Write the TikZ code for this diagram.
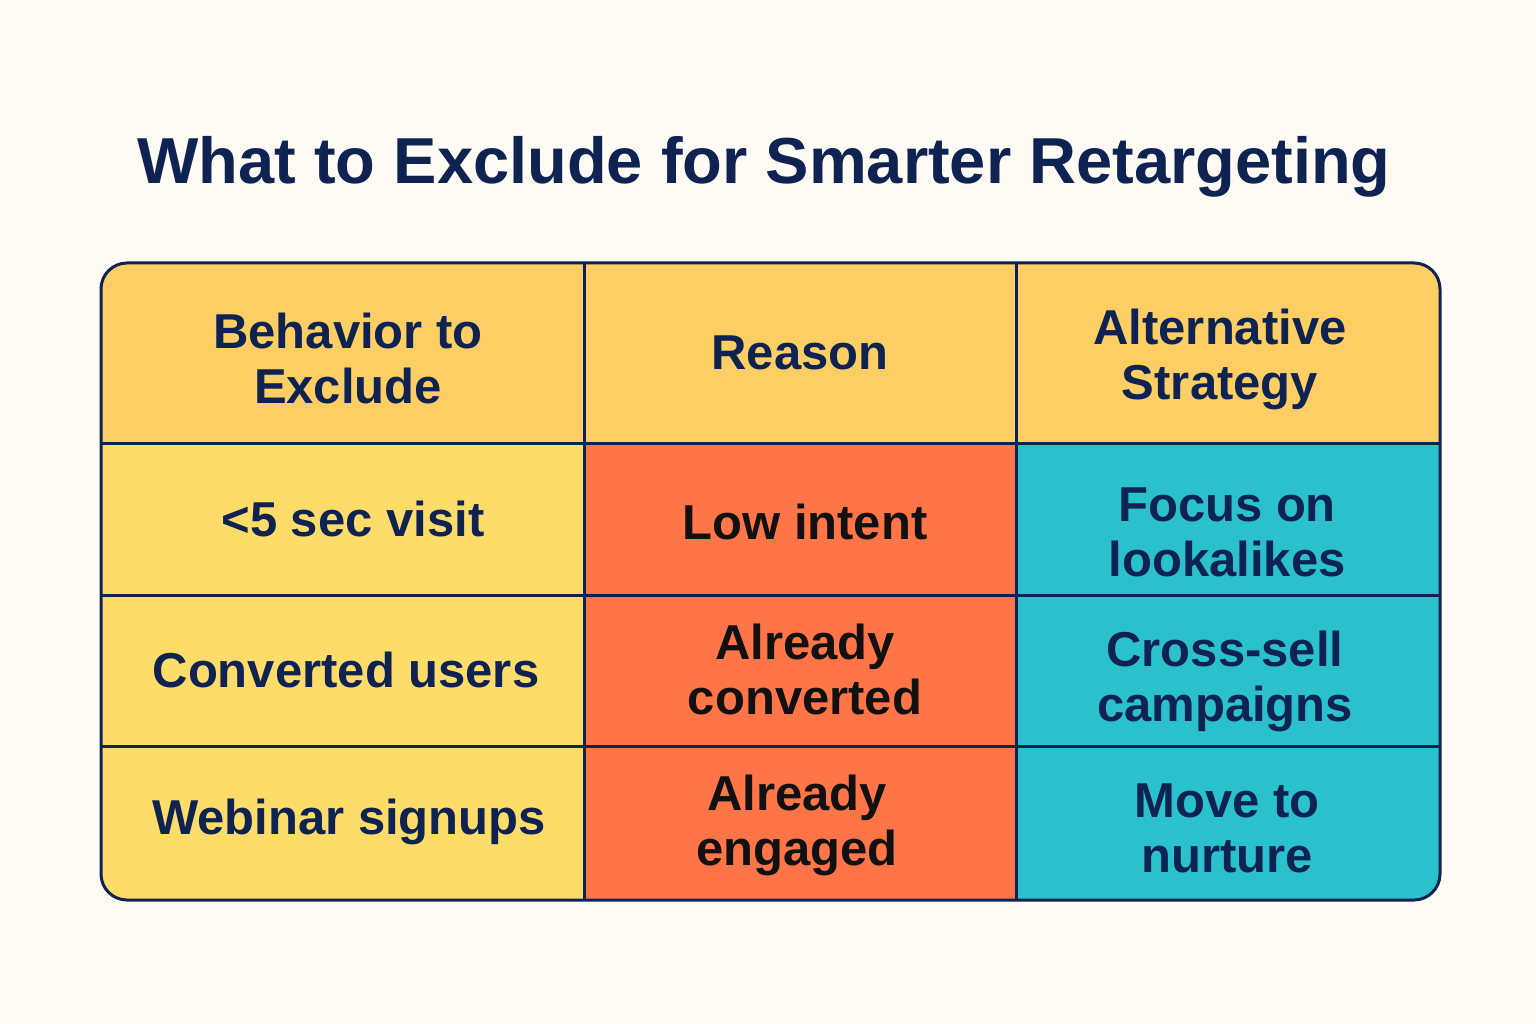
\documentclass[tikz,border=0pt]{standalone}
\usepackage{fontspec}
\setmainfont{Liberation Sans}
\definecolor{bg}{HTML}{FDFBF4}
\definecolor{navy}{HTML}{0F2352}
\definecolor{hdr}{HTML}{FCCE64}
\definecolor{ylw}{HTML}{FEDC6A}
\definecolor{org}{HTML}{FF7548}
\definecolor{tea}{HTML}{2BC1CC}
\definecolor{blk}{HTML}{111111}
\tikzset{
  celltext/.style={font=\bfseries\fontsize{49}{55}\selectfont, text=navy, align=center, inner sep=0pt},
  orgtext/.style={celltext, text=blk},
  grid/.style={draw=navy, line width=3pt}
}
\begin{document}
\begin{tikzpicture}[x=1pt,y=-1pt]
\fill[bg] (0,0) rectangle (1536,1024);
\useasboundingbox (0,0) rectangle (1536,1024);
\node[font=\bfseries\fontsize{65}{75}\selectfont, text=navy, inner sep=0pt] (title) at (764,167) {What to Exclude for Smarter Retargeting};
\begin{scope}
\clip[rounded corners=26pt] (101,263) rectangle (1440,900);
\fill[hdr] (101,263) rectangle (1440,443);
\fill[ylw] (101,443) rectangle (584,900);
\fill[org] (584,443) rectangle (1016,900);
\fill[tea] (1016,443) rectangle (1440,900);
\end{scope}
\draw[grid] (584,263) -- (584,900);
\draw[grid] (1016,263) -- (1016,900);
\draw[grid] (101,443) -- (1440,443);
\draw[grid] (101,595) -- (1440,595);
\draw[grid] (101,746) -- (1440,746);
\draw[grid, rounded corners=26pt] (101,263) rectangle (1440,900);
\node[celltext] (h1) at (348,358) {Behavior to\\Exclude};
\node[celltext] (h2) at (800,353) {Reason};
\node[celltext] (h3) at (1220,359) {Alternative\\Strategy};
\node[celltext] (a1) at (353,519) {<5 sec visit};
\node[orgtext] (b1) at (805,522) {Low intent};
\node[celltext] (c1) at (1227,532) {Focus on\\lookalikes};
\node[celltext] (a2) at (346,670) {Converted users};
\node[orgtext] (b2) at (805,669) {Already\\converted};
\node[celltext] (c2) at (1225,681) {Cross-sell\\campaigns};
\node[celltext] (a3) at (349,822) {Webinar signups};
\node[orgtext] (b3) at (797,825) {Already\\engaged};
\node[celltext] (c3) at (1227,828) {Move to\\nurture};
\end{tikzpicture}
\end{document}
